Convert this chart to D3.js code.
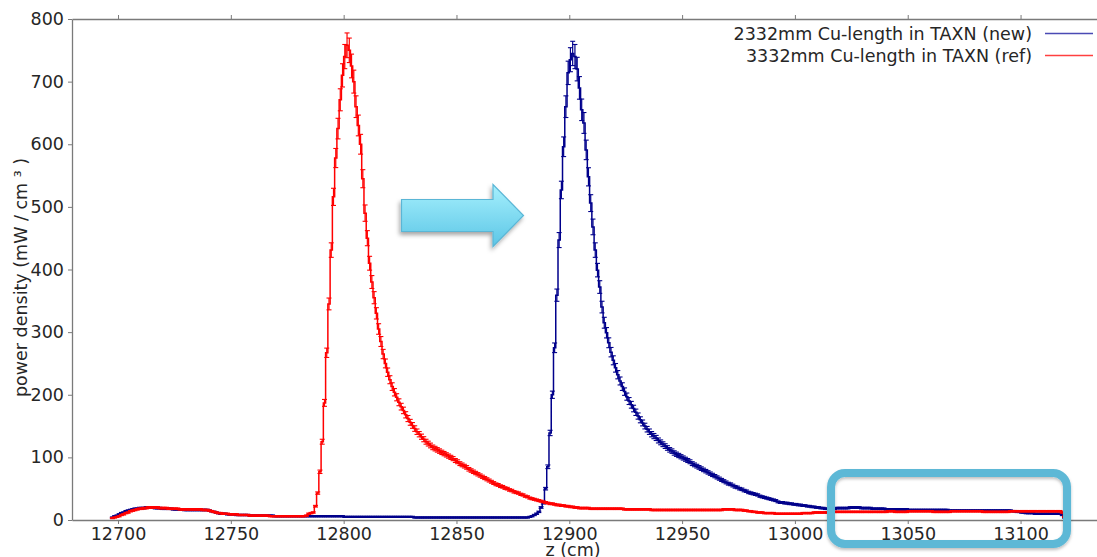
<!DOCTYPE html>
<html>
<head>
<meta charset="utf-8">
<script src="https://cdn.jsdelivr.net/npm/d3@7"></script>
<style>
  html, body { margin: 0; padding: 0; background: #fff; overflow: hidden; }
  text { font-family: "DejaVu Sans", sans-serif; }
</style>
</head>
<body>
<svg id="chart" width="1097" height="557"></svg>
<script>
// ---- data -------------------------------------------------------------
// Power density histograms along z, 1 cm bins starting at binStart.
const binStart = 12697;
const binWidth = 1;
const relErr = 0.025;           // relative statistical uncertainty
const absErr = 0.8;             // uncertainty floor (mW/cm³)

const seriesNames = ["2332mm Cu-length in TAXN (new)", "3332mm Cu-length in TAXN (ref)"];
const seriesColors = ["#00008b", "#ff0000"];
const legendColors = ["#4a4ab4", "#ff4040"];
const xTicks = [12700, 12750, 12800, 12850, 12900, 12950, 13000, 13050, 13100];
const yTicks = [0, 100, 200, 300, 400, 500, 600, 700, 800];

// 2332 mm copper (new)
const newVals = [
  4,6,7,9,11,12,14,15,16,17,           // 12697
  18,18,19,19,19,20,20,20,20,19,       // 12707
  19,19,18,18,18,18,18,17,17,17,       // 12717
  17,17,16,16,16,16,16,16,16,16,       // 12727
  16,16,16,15,14,13,12,11,10,10,       // 12737
  10,9,9,9,9,8,8,8,8,8,                // 12747
  8,7,7,7,7,7,7,7,7,7,                 // 12757
  7,7,6,6,6,6,6,6,6,6,                 // 12767
  6,6,6,6,6,6,6,6,6,6,                 // 12777
  6,6,6,6,6,6,6,6,6,6,                 // 12787
  6,6,6,5,5,5,5,5,5,5,                 // 12797
  5,5,5,5,5,5,5,5,5,5,                 // 12807
  5,5,5,5,5,5,5,5,5,5,                 // 12817
  5,5,5,5,4,4,4,4,4,4,                 // 12827
  4,4,4,4,4,4,4,4,4,4,                 // 12837
  4,4,4,4,4,4,4,4,4,4,                 // 12847
  4,4,4,4,4,4,4,4,4,4,                 // 12857
  4,4,4,4,4,4,4,4,4,4,                 // 12867
  4,4,4,4,4,5,6,8,10,13,               // 12877
  20,27,50,85,139,200,275,359,447,527, // 12887
  596,660,714,735,745,740,720,690,655,634, // 12897
  591,548,506,468,431,399,372,340,315,299, // 12907
  283,268,255,243,232,222,213,205,197,190, // 12917
  184,178,172,166,160,155,150,145,141,137, // 12927
  134,131,127,124,121,118,115,112,110,107, // 12937
  105,103,101,99,97,95,93,90,88,86,    // 12947
  84,82,80,78,76,74,72,70,68,66,       // 12957
  64,62,60,58,57,55,53,52,50,49,       // 12967
  47,46,44,43,42,41,40,38,37,36,       // 12977
  35,34,33,32,31,29,28,28,27,27,       // 12987
  26,26,25,25,24,24,23,23,22,22,       // 12997
  21,21,20,20,19,19,18,18,18,18,       // 13007
  18,19,19,19,19,19,19,20,20,20,       // 13017
  20,20,19,19,19,19,19,18,18,18,       // 13027
  18,18,18,17,17,17,17,17,17,17,       // 13037
  17,17,17,16,16,16,16,16,16,16,       // 13047
  16,16,16,16,16,16,16,16,16,16,       // 13057
  16,15,15,15,15,15,15,15,15,15,       // 13067
  15,15,15,15,15,15,15,15,15,15,       // 13077
  15,15,15,15,15,15,15,15,15,14,       // 13087
  14,13,13,12,12,11,11,11,11,10,       // 13097
  10,10,10,10,10,10,10,10,10,10,       // 13107
  10,8,4                               // 13117
];

// 3332 mm copper (reference)
const refVals = [
  3,4,5,6,8,9,11,12,14,15,             // 12697
  16,17,18,18,19,19,20,20,20,20,       // 12707
  20,19,19,19,19,18,18,18,18,18,       // 12717
  17,17,17,17,17,17,17,17,17,17,       // 12727
  16,16,16,15,14,13,12,11,11,10,       // 12737
  10,10,9,9,9,9,8,8,8,8,               // 12747
  8,7,7,7,7,7,7,7,7,7,                 // 12757
  6,6,6,6,6,6,6,6,6,6,                 // 12767
  6,6,6,6,6,6,7,10,11,12,              // 12777
  22,43,77,125,187,267,345,431,516,578, // 12787
  625,671,710,740,758,750,725,700,660,630, // 12797
  600,545,490,450,410,380,355,330,305,285, // 12807
  265,250,236,224,213,204,196,188,181,175, // 12817
  168,162,156,151,146,141,137,133,129,125, // 12827
  122,119,116,114,112,110,108,106,104,102, // 12837
  100,98,95,93,90,88,86,84,81,79,      // 12847
  77,75,73,71,69,67,65,63,61,59,       // 12857
  57,56,54,53,51,50,48,47,45,44,       // 12867
  43,41,40,38,37,35,34,33,32,31,       // 12877
  30,29,28,27,26,26,25,24,24,23,       // 12887
  23,22,22,21,21,20,20,19,19,19,       // 12897
  19,19,18,18,18,18,18,18,18,18,       // 12907
  18,18,18,18,18,18,18,17,17,17,       // 12917
  17,17,17,17,17,17,17,17,17,16,       // 12927
  16,16,16,16,16,16,16,16,16,16,       // 12937
  16,16,16,16,16,16,16,16,16,16,       // 12947
  16,16,16,16,16,16,16,16,16,16,       // 12957
  16,17,17,17,17,17,16,16,16,16,       // 12967
  15,15,14,14,13,13,12,12,12,11,       // 12977
  11,11,11,11,10,10,10,10,10,10,       // 12987
  10,10,10,10,10,10,11,11,11,11,       // 12997
  11,12,12,12,12,12,12,12,13,13,       // 13007
  13,13,13,13,13,13,13,13,13,13,       // 13017
  13,13,13,13,13,13,13,13,13,13,       // 13027
  13,13,13,13,14,14,14,13,13,13,       // 13037
  13,13,13,14,14,14,14,14,14,14,       // 13047
  14,14,14,14,13,13,13,13,13,13,       // 13057
  13,13,14,14,14,14,14,14,14,14,       // 13067
  14,14,14,14,14,14,13,13,13,13,       // 13077
  13,13,13,13,13,13,13,13,14,14,       // 13087
  14,14,14,14,14,14,14,14,14,14,       // 13097
  14,14,14,14,14,14,14,14,14,14,       // 13107
  14,12,5                              // 13117
];

// ---- layout -----------------------------------------------------------
const svg = d3.select("#chart");
const x = d3.scaleLinear().domain([12679.6, 13140]).range([72, 1110.8]);
const y = d3.scaleLinear().domain([0, 800]).range([520, 19]);
const axisColor = "#7a7a7a";
const textColor = "#262626";
const fontSize = "17.5px";

const defs = svg.append("defs");
const shadow = defs.append("filter").attr("id", "softShadow")
  .attr("x", "-20%").attr("y", "-20%").attr("width", "140%").attr("height", "160%");
shadow.append("feDropShadow").attr("dx", -1.5).attr("dy", 3).attr("stdDeviation", 2)
  .attr("flood-color", "#000").attr("flood-opacity", 0.35);
const boxShadow = defs.append("filter").attr("id", "boxShadow")
  .attr("x", "-10%").attr("y", "-20%").attr("width", "120%").attr("height", "150%");
boxShadow.append("feDropShadow").attr("dx", 0).attr("dy", 2).attr("stdDeviation", 1.5)
  .attr("flood-color", "#000").attr("flood-opacity", 0.25);
const grad = defs.append("linearGradient").attr("id", "arrowFill")
  .attr("x1", 0).attr("y1", 0).attr("x2", 0).attr("y2", 1);
grad.append("stop").attr("offset", "0%").attr("stop-color", "#a6f0fd");
grad.append("stop").attr("offset", "100%").attr("stop-color", "#5cc6e6");

// ---- axes -------------------------------------------------------------
function styleAxis(g) {
  g.select(".domain").attr("stroke", axisColor).attr("stroke-width", 1.3);
  g.selectAll(".tick line").attr("stroke", axisColor).attr("stroke-width", 1);
  g.selectAll(".tick text").attr("fill", textColor).style("font-size", fontSize)
    .style("font-family", "'DejaVu Sans', sans-serif");
}

svg.append("g").attr("transform", `translate(0,${y(0)})`)
  .call(d3.axisBottom(x).tickValues(xTicks).tickFormat(d3.format("d"))
    .tickSizeInner(4).tickSizeOuter(0).tickPadding(4))
  .call(styleAxis);

svg.append("g").attr("transform", `translate(0,${y(800)})`)
  .call(d3.axisTop(x).tickValues(xTicks).tickFormat("")
    .tickSizeInner(4).tickSizeOuter(0))
  .call(styleAxis);

svg.append("g").attr("transform", `translate(${x.range()[0]},0)`)
  .call(d3.axisLeft(y).tickValues(yTicks).tickFormat(d3.format("d"))
    .tickSizeInner(4).tickSizeOuter(0).tickPadding(4))
  .call(styleAxis);

// axis titles
svg.append("text")
  .attr("transform", `translate(27,${(y(0) + y(800)) / 2 + 8}) rotate(-90)`)
  .attr("text-anchor", "middle").attr("fill", textColor).style("font-size", fontSize)
  .text("power density (mW / cm ³ )");

svg.append("text")
  .attr("x", 573).attr("y", 556)
  .attr("text-anchor", "middle").attr("fill", textColor).style("font-size", fontSize)
  .text("z (cm)");

// ---- histograms with error bars ---------------------------------------
function drawSeries(vals, color) {
  const g = svg.append("g");
  const pts = vals.map((v, i) => [binStart + i * binWidth, v]);
  pts.push([binStart + vals.length * binWidth, vals[vals.length - 1]]);
  const line = d3.line().x(d => x(d[0])).y(d => y(d[1])).curve(d3.curveStepAfter);
  g.append("path").attr("d", line(pts)).attr("fill", "none")
    .attr("stroke", color).attr("stroke-width", 1.5);

  const err = d => d * relErr + absErr;
  const cx = (d, i) => x(binStart + (i + 0.5) * binWidth);
  const hw = 2.5;
  const bars = g.selectAll("g.err").data(vals).join("g").attr("class", "err");
  bars.append("line")
    .attr("x1", cx).attr("x2", cx)
    .attr("y1", d => y(d + err(d))).attr("y2", d => y(d - err(d)))
    .attr("stroke", color).attr("stroke-width", 1.2);
  bars.append("line")
    .attr("x1", (d, i) => cx(d, i) - hw).attr("x2", (d, i) => cx(d, i) + hw)
    .attr("y1", d => y(d + err(d))).attr("y2", d => y(d + err(d)))
    .attr("stroke", color).attr("stroke-width", 1.1);
  bars.append("line")
    .attr("x1", (d, i) => cx(d, i) - hw).attr("x2", (d, i) => cx(d, i) + hw)
    .attr("y1", d => y(d - err(d))).attr("y2", d => y(d - err(d)))
    .attr("stroke", color).attr("stroke-width", 1.1);
}

drawSeries(newVals, seriesColors[0]);
drawSeries(refVals, seriesColors[1]);

// ---- legend -----------------------------------------------------------
const legend = svg.append("g");
seriesNames.forEach((name, i) => {
  const cy = 33.5 + i * 22;
  legend.append("text").attr("x", 1032).attr("y", cy + 6)
    .attr("text-anchor", "end").attr("fill", textColor).style("font-size", fontSize)
    .text(name);
  legend.append("line").attr("x1", 1045).attr("x2", 1093).attr("y1", cy).attr("y2", cy)
    .attr("stroke", legendColors[i]).attr("stroke-width", 1.5);
});

// ---- annotations: shift arrow and highlighted tail region -------------
const ax0 = 401.5, ax1 = 493, ax2 = 523.5, ayMid = 215.5;
svg.append("path")
  .attr("d", `M${ax0},${ayMid - 16} L${ax1},${ayMid - 16} L${ax1},${ayMid - 31}
              L${ax2},${ayMid} L${ax1},${ayMid + 31} L${ax1},${ayMid + 16}
              L${ax0},${ayMid + 16} Z`)
  .attr("fill", "url(#arrowFill)").attr("stroke", "#5ab6d6").attr("stroke-width", 1.2)
  .attr("filter", "url(#softShadow)");

svg.append("rect")
  .attr("x", x(13016)).attr("y", 473)
  .attr("width", x(13120.6) - x(13016)).attr("height", 71)
  .attr("rx", 14).attr("ry", 14)
  .attr("fill", "none").attr("stroke", "#5db8d6").attr("stroke-width", 8)
  .attr("filter", "url(#boxShadow)");
</script>
</body>
</html>
